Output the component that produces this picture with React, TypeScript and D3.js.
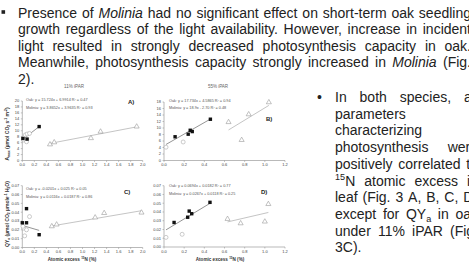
import * as d3 from "d3";

// ---- slide text ----
const topText = [
  "Presence of *Molinia* had no significant effect on short-term oak seedling",
  "growth regardless of the light availability. However, increase in incident",
  "light resulted in strongly decreased photosynthesis capacity in oak.",
  "Meanwhile, photosynthesis capacity strongly increased in *Molinia* (Fig.",
  "2).",
];
const topJustify = [true, true, true, true, false];

const sideText = [
  "In both species, all",
  "parameters",
  "characterizing",
  "photosynthesis were",
  "positively correlated to",
  "^15^N atomic excess in",
  "leaf (Fig. 3 A, B, C, D)",
  "except for QY~a~ in oak",
  "under 11% iPAR (Fig.",
  "3C).",
];
const sideJustify = [true, false, false, true, true, true, true, true, true, false];

const panelTitles = ["11% iPAR", "55% iPAR"];
const panelLabels = ["A)", "B)", "C)", "D)"];
const yTitles = ["A~max~ (µmol CO~2~ s^-1^ m^-2^)", "QY~a~ (µmol CO~2~ µmole^-1^ H~2~O)"];
const xTitle = "Atomic excess ^15^N (%)";

// ---- panel A: Amax, 11% iPAR ----
const aOakFilledX = [0.01, 0.08, 0.28];
const aOakFilledY = [7.4, 7.2, 11.4];
const aOakOpenX = [0.02, 0.05, 0.08, 0.12, 0.07];
const aOakOpenY = [6.9, 8.6, 8.9, 9.1, 6.3];
const aMolX = [0.46, 0.53, 1.14, 1.3, 1.9];
const aMolY = [5.4, 6.1, 7.5, 9.7, 11.4];
const aFits = [[15.724, 6.9914], [3.8652, 3.9635]];
const aLegend = ["Oak: y = 15.724x + 6.9914  R² = 0.47", "Molinia: y = 3.8652x + 3.9635  R² = 0.93"];

// ---- panel B: Amax, 55% iPAR ----
const bOakFilledX = [0.11, 0.24, 0.26, 0.28, 0.46];
const bOakFilledY = [7.3, 8.1, 9.3, 8.9, 12.7];
const bOakOpenX = [0.02, 0.19];
const bOakOpenY = [4.1, 5.7];
const bMolX = [0.64, 0.84, 1.04, 0.77];
const bMolY = [11.8, 14.2, 17.9, 6.3];
const bFits = [[17.734, 4.5865], [18.9, -2.7]];
const bLegend = ["Oak: y = 17.734x + 4.5865  R² = 0.94", "Molinia: y = 18.9x - 2.70  R² = 0.48"];

// ---- panel C: QYa, 11% iPAR ----
const cOakFilledX = [0.0, 0.07, 0.07, 0.28];
const cOakFilledY = [0.028, 0.044, 0.028, 0.0145];
const cOakOpenX = [0.12, 0.02, 0.07, 0.04, 0.01];
const cOakOpenY = [0.035, 0.022, 0.02, 0.0132, 0.024];
const cMolX = [0.49, 0.57, 1.21, 1.36, 1.98];
const cMolY = [0.024, 0.026, 0.034, 0.039, 0.0395];
const cFits = [[-0.0201, 0.025], [0.0116, 0.0187]];
const cLegend = ["Oak: y = -0.0201x + 0.025  R² = 0.05", "Molinia: y = 0.0116x + 0.0187  R² = 0.86"];

// ---- panel D: QYa, 55% iPAR ----
const dOakFilledX = [0.1, 0.235, 0.25, 0.275, 0.456];
const dOakFilledY = [0.028, 0.034, 0.041, 0.038, 0.051];
const dOakOpenX = [0.02, 0.18];
const dOakOpenY = [0.011, 0.0145];
const dMolX = [0.63, 0.76, 1.0, 1.035];
const dMolY = [0.032, 0.027, 0.029, 0.049];
const dFits = [[0.0694, 0.0182], [0.0267, 0.0118]];
const dLegend = ["Oak: y = 0.0694x + 0.0182  R² = 0.77", "Molinia: y = 0.0267x + 0.0118  R² = 0.25"];

const FONT = '"Liberation Sans", Arial, sans-serif';

type Run = { t: string; it?: boolean; sup?: boolean; sub?: boolean };

function parse(s: string): Run[] {
  const toks = s.match(/\*[^*]+\*|\^[^^]+\^|~[^~]+~|[^*^~]+/g) || [];
  return toks.map((k) => {
    if (k[0] === "*") return { t: k.slice(1, -1), it: true };
    if (k[0] === "^") return { t: k.slice(1, -1), sup: true };
    if (k[0] === "~") return { t: k.slice(1, -1), sub: true };
    return { t: k };
  });
}

const ctx = document.createElement("canvas").getContext("2d")!;
function textWidth(runs: Run[], size: number) {
  let w = 0;
  runs.forEach((r) => {
    const s = r.sup || r.sub ? size * 0.65 : size;
    ctx.font = `${r.it ? "italic " : ""}${s}px ${FONT}`;
    w += ctx.measureText(r.t).width;
  });
  return w;
}

function Rich({ runs, x, y, size, ...rest }: any) {
  let shift = 0;
  return (
    <text x={x} y={y} fontSize={size} fontFamily={FONT} {...rest}>
      {runs.map((r: Run, i: number) => {
        const target = r.sup ? -size * 0.38 : r.sub ? size * 0.22 : 0;
        const dy = target - shift;
        shift = target;
        return (
          <tspan key={i} dy={dy || undefined} fontSize={r.sup || r.sub ? size * 0.65 : size} fontStyle={r.it ? "italic" : undefined}>
            {r.t}
          </tspan>
        );
      })}
    </text>
  );
}

function Paragraph({ lines, justify, x0, right, y0, lh, size }: any) {
  const out: any[] = [];
  const space = textWidth([{ t: " " }], size);
  lines.forEach((line: string, li: number) => {
    const words = line.split(" ").map(parse);
    const widths = words.map((w) => textWidth(w, size));
    const total = d3.sum(widths);
    const gap = justify[li] && words.length > 1 ? (right - x0 - total) / (words.length - 1) : space;
    let x = x0;
    words.forEach((w, wi) => {
      out.push(<Rich key={`${li}-${wi}`} runs={w} x={x} y={y0 + li * lh} size={size} fill="#222" />);
      x += widths[wi] + gap;
    });
  });
  return <g>{out}</g>;
}

function Panel({ px, py, xMax, yMax, yStep, yFmt, oakF, oakO, mol, fits, legend, label, labelPos, legendPos }: any) {
  const x = d3.scaleLinear().domain([0, xMax]).range(px);
  const y = d3.scaleLinear().domain([0, yMax]).range(py);
  const xTicks = d3.range(0, xMax + 1e-9, 0.2);
  const yTicks = d3.range(0, yMax + yStep / 2, yStep);
  const oakXs = [...oakF[0], ...oakO[0]];
  const oakExt = d3.extent(oakXs) as [number, number];
  const molExt = d3.extent(mol[0]) as [number, number];
  const line = d3.line<number[]>().x((d) => x(d[0])).y((d) => y(d[1]));
  const fitPts = (ext: [number, number], f: number[]) => ext.map((v) => [v, f[0] * v + f[1]]);
  const tri = d3.symbol().type(d3.symbolTriangle).size(11);
  const axCol = "#8a8a8a";
  return (
    <g fontFamily={FONT}>
      <line x1={px[0]} x2={px[1]} y1={py[0]} y2={py[0]} stroke={axCol} strokeWidth={0.6} />
      <line x1={px[0]} x2={px[0]} y1={py[0]} y2={py[1]} stroke={axCol} strokeWidth={0.6} />
      {xTicks.map((t, i) => (
        <g key={i}>
          <line x1={x(t)} x2={x(t)} y1={py[0]} y2={py[0] + 1.5} stroke={axCol} strokeWidth={0.5} />
          <text x={x(t)} y={py[0] + 5.5} fontSize={4} textAnchor="middle" fill="#444">
            {d3.format(".1f")(t)}
          </text>
        </g>
      ))}
      {yTicks.map((t, i) => (
        <g key={i}>
          <line x1={px[0] - 1.5} x2={px[0]} y1={y(t)} y2={y(t)} stroke={axCol} strokeWidth={0.5} />
          <text x={px[0] - 3} y={y(t) + 1.4} fontSize={4} textAnchor="end" fill="#444">
            {d3.format(yFmt)(t)}
          </text>
        </g>
      ))}
      <path d={line(fitPts(oakExt, fits[0])) || ""} stroke="#666" strokeWidth={0.7} fill="none" />
      <path d={line(fitPts(molExt, fits[1])) || ""} stroke="#aaa" strokeWidth={0.7} fill="none" />
      {oakO[0].map((v: number, i: number) => (
        <circle key={i} cx={x(v)} cy={y(oakO[1][i])} r={2} fill="#fff" stroke="#aaa" strokeWidth={0.6} />
      ))}
      {mol[0].map((v: number, i: number) => (
        <path key={i} d={tri() || ""} transform={`translate(${x(v)},${y(mol[1][i])})`} fill="#fff" stroke="#999" strokeWidth={0.6} />
      ))}
      {oakF[0].map((v: number, i: number) => (
        <rect key={i} x={x(v) - 1.7} y={y(oakF[1][i]) - 1.7} width={3.4} height={3.4} fill="#111" />
      ))}
      {legend.map((s: string, i: number) => (
        <text key={i} x={legendPos[0]} y={legendPos[1] + i * 7.5} fontSize={3.8} fill="#555">
          {s}
        </text>
      ))}
      <text x={labelPos[0]} y={labelPos[1]} fontSize={6} fontWeight="bold" fill="#222">
        {label}
      </text>
    </g>
  );
}

export default function App() {
  return (
    <svg width={469} height={268} style={{ position: "absolute", left: 0, top: 0, background: "#fff" }}>
      <rect x={1.5} y={10.2} width={3.6} height={3.6} fill="#222" />
      <Paragraph lines={topText} justify={topJustify} x0={18} right={471} y0={17.5} lh={16.5} size={14} />
      <text x={317} y={102} fontSize={14} fontFamily={FONT} fill="#222">•</text>
      <Paragraph lines={sideText} justify={sideJustify} x0={335} right={478} y0={102} lh={16.7} size={14} />

      <text x={74} y={88} fontSize={4.5} fontFamily={FONT} textAnchor="middle" fill="#666">{panelTitles[0]}</text>
      <text x={218} y={88} fontSize={4.5} fontFamily={FONT} textAnchor="middle" fill="#666">{panelTitles[1]}</text>

      <Panel px={[22.3, 142.7]} py={[160.5, 101]} xMax={2} yMax={20} yStep={2} yFmt="d"
        oakF={[aOakFilledX, aOakFilledY]} oakO={[aOakOpenX, aOakOpenY]} mol={[aMolX, aMolY]}
        fits={aFits} legend={aLegend} label={panelLabels[0]} labelPos={[128, 104]} legendPos={[26, 101]} />
      <Panel px={[164, 285]} py={[160.5, 102]} xMax={1.2} yMax={18} yStep={2} yFmt="d"
        oakF={[bOakFilledX, bOakFilledY]} oakO={[bOakOpenX, bOakOpenY]} mol={[bMolX, bMolY]}
        fits={bFits} legend={bLegend} label={panelLabels[1]} labelPos={[266, 121]} legendPos={[169, 101.5]} />
      <Panel px={[22.3, 142.7]} py={[247.5, 185.7]} xMax={2} yMax={0.07} yStep={0.01} yFmt=".2f"
        oakF={[cOakFilledX, cOakFilledY]} oakO={[cOakOpenX, cOakOpenY]} mol={[cMolX, cMolY]}
        fits={cFits} legend={cLegend} label={panelLabels[2]} labelPos={[124, 194]} legendPos={[26, 190]} />
      <Panel px={[164, 285]} py={[247, 185.7]} xMax={1.2} yMax={0.07} yStep={0.01} yFmt=".2f"
        oakF={[dOakFilledX, dOakFilledY]} oakO={[dOakOpenX, dOakOpenY]} mol={[dMolX, dMolY]}
        fits={dFits} legend={dLegend} label={panelLabels[3]} labelPos={[261, 194]} legendPos={[169, 187]} />

      <Rich runs={parse(yTitles[0])} x={0} y={0} size={5} fill="#333" fontWeight="bold" textAnchor="middle"
        transform="translate(9,134) rotate(-90)" />
      <Rich runs={parse(yTitles[1])} x={0} y={0} size={5} fill="#333" fontWeight="bold" textAnchor="middle"
        transform="translate(9,214) rotate(-90)" />
      <Rich runs={parse(xTitle)} x={72} y={261} size={4.6} fill="#333" fontWeight="bold" textAnchor="middle" />
      <Rich runs={parse(xTitle)} x={220} y={261} size={4.6} fill="#333" fontWeight="bold" textAnchor="middle" />
    </svg>
  );
}
